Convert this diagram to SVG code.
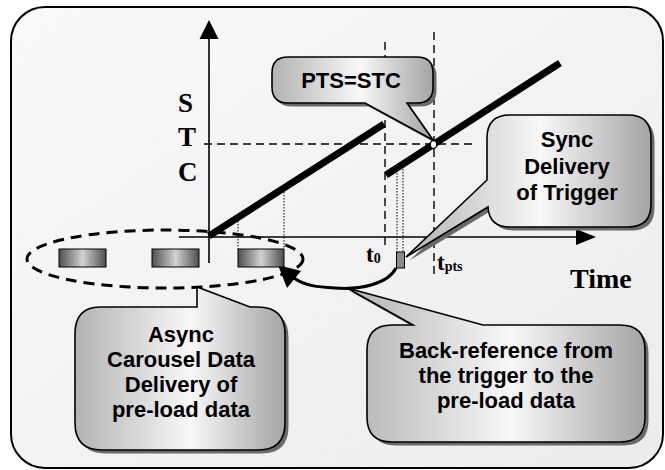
<svg xmlns="http://www.w3.org/2000/svg" width="665" height="470" viewBox="0 0 665 470">
<defs>
<linearGradient id="bg" x1="0" y1="0" x2="1" y2="1">
<stop offset="0" stop-color="#f9f9f9"/>
<stop offset="1" stop-color="#ececec"/>
</linearGradient>
<linearGradient id="callout" x1="0" y1="0" x2="1" y2="0">
<stop offset="0" stop-color="#b2b2b2"/>
<stop offset="0.55" stop-color="#f8f8f8"/>
<stop offset="1" stop-color="#a4a4a4"/>
</linearGradient>
<linearGradient id="pkt" x1="0" y1="0" x2="1" y2="0">
<stop offset="0" stop-color="#4e4e4e"/>
<stop offset="0.5" stop-color="#d2d2d2"/>
<stop offset="1" stop-color="#4e4e4e"/>
</linearGradient>
</defs>
<style>
.frame{fill:url(#bg);stroke:#000;stroke-width:2}
.co{fill:url(#callout);stroke:#000;stroke-width:1.6}
.sh{fill:#6a6a6a}
.lbl{font-family:"Liberation Sans",Arial,sans-serif;font-weight:bold;font-size:22px;fill:#000;text-anchor:middle}
.ser{font-family:"Liberation Serif","Times New Roman",serif;font-weight:bold;fill:#000}
.axis{stroke:#000;stroke-width:1.6;fill:none}
.thick{stroke:#000;stroke-width:7;fill:none}
.dash{stroke:#000;stroke-width:1.4;stroke-dasharray:8 5;fill:none}
.dot{stroke:#000;stroke-width:1;stroke-dasharray:1.5 1.5;fill:none}
.pkt{fill:url(#pkt);stroke:#000;stroke-width:1}
</style>
<rect class="frame" x="11" y="7" width="652" height="461" rx="34"/>

<g id="connectors">
<line class="axis" x1="209" y1="36" x2="209" y2="263"/>
<polygon points="209,20 199.5,39 218.5,39" fill="#000"/>
<line class="axis" x1="179" y1="237" x2="580" y2="237"/>
<polygon points="596,237 576,229 576,245" fill="#000"/>
<line class="dash" x1="204" y1="144" x2="477" y2="144"/>
<line class="dash" x1="385" y1="42" x2="385" y2="248"/>
<line class="dash" x1="434" y1="32" x2="434" y2="277"/>
<line class="dot" x1="238" y1="218" x2="238" y2="249"/>
<line class="dot" x1="284" y1="189" x2="284" y2="249"/>
<line class="dot" x1="397" y1="167" x2="397" y2="252"/>
<line class="dot" x1="403" y1="163" x2="403" y2="252"/>
<line class="thick" x1="209" y1="236" x2="384" y2="124"/>
<line class="thick" x1="386" y1="175" x2="560" y2="63"/>
<ellipse cx="165" cy="259" rx="138" ry="29" fill="none" stroke="#000" stroke-width="3" stroke-dasharray="11 7"/>
<path d="M 396 268 C 388 284, 360 290, 335 288 C 318 287, 305 286, 294 278" fill="none" stroke="#000" stroke-width="3"/>
<polygon points="278,265 287,288 301,271" fill="#000"/>
</g>

<g id="axis-labels">
<text class="ser" x="178" y="112" font-size="27">S</text>
<text class="ser" x="178" y="146" font-size="27">T</text>
<text class="ser" x="178" y="181" font-size="27">C</text>
<text class="ser" x="570" y="288" font-size="28">Time</text>
<text class="ser" x="366" y="262" font-size="23">t<tspan font-size="14" dy="1">0</tspan></text>
<text class="ser" x="437" y="270" font-size="23">t<tspan font-size="14" dy="1">pts</tspan></text>
</g>

<g id="packets">
<rect class="pkt" x="59" y="249" width="47" height="18"/>
<rect class="pkt" x="152" y="249" width="47" height="18"/>
<rect class="pkt" x="238" y="249" width="46" height="18"/>
</g>
<g id="trigger">
<rect x="396.5" y="252" width="8" height="16" fill="#8a8a8a" stroke="#000" stroke-width="1"/>
</g>

<g id="callout-pts">
<path d="M 288 57 H 417 Q 433 57 433 73 V 87 Q 433 103 417 103 H 407 L 433 140 L 365 103 H 288 Q 272 103 272 87 V 73 Q 272 57 288 57 Z" class="sh" transform="translate(3.5,3.5)"/>
<path d="M 288 57 H 417 Q 433 57 433 73 V 87 Q 433 103 417 103 H 407 L 433 140 L 365 103 H 288 Q 272 103 272 87 V 73 Q 272 57 288 57 Z" class="co"/>
<text class="lbl" x="351" y="88" font-size="21">PTS=STC</text>
</g>

<g id="callout-sync">
<path d="M 510 115 H 628 Q 651 115 651 138 V 204 Q 651 227 628 227 H 510 Q 489 227 488 207 L 406 257 L 487 180 V 138 Q 487 115 510 115 Z" class="sh" transform="translate(3.5,3.5)"/>
<path d="M 510 115 H 628 Q 651 115 651 138 V 204 Q 651 227 628 227 H 510 Q 489 227 488 207 L 406 257 L 487 180 V 138 Q 487 115 510 115 Z" class="co"/>
<text class="lbl" x="567" y="147">Sync</text>
<text class="lbl" x="567" y="173.5">Delivery</text>
<text class="lbl" x="567" y="200">of Trigger</text>
</g>

<g id="callout-async">
<path d="M 100 307 H 197 V 287 L 250 307 H 258 Q 285 307 285 334 V 423 Q 285 450 258 450 H 102 Q 75 450 75 423 V 334 Q 75 307 100 307 Z" class="sh" transform="translate(3.5,3.5)"/>
<path d="M 100 307 H 197 V 287 L 250 307 H 258 Q 285 307 285 334 V 423 Q 285 450 258 450 H 102 Q 75 450 75 423 V 334 Q 75 307 100 307 Z" class="co"/>
<text class="lbl" x="181" y="342">Async</text>
<text class="lbl" x="181" y="367">Carousel Data</text>
<text class="lbl" x="181" y="392">Delivery of</text>
<text class="lbl" x="181" y="417">pre-load data</text>
</g>

<g id="callout-backref">
<path d="M 392 325 H 413 L 347 288 L 483 325 H 620 Q 645 325 645 350 V 417 Q 645 442 620 442 H 392 Q 367 442 367 417 V 350 Q 367 325 392 325 Z" class="sh" transform="translate(3.5,3.5)"/>
<path d="M 392 325 H 413 L 347 288 L 483 325 H 620 Q 645 325 645 350 V 417 Q 645 442 620 442 H 392 Q 367 442 367 417 V 350 Q 367 325 392 325 Z" class="co"/>
<text class="lbl" x="506" y="358">Back-reference from</text>
<text class="lbl" x="506" y="383">the trigger to the</text>
<text class="lbl" x="506" y="408">pre-load data</text>
</g>

<g id="pts-point">
<ellipse cx="433.5" cy="144.5" rx="3.2" ry="4" fill="#fff" stroke="#000" stroke-width="1.3"/>
</g>
</svg>
